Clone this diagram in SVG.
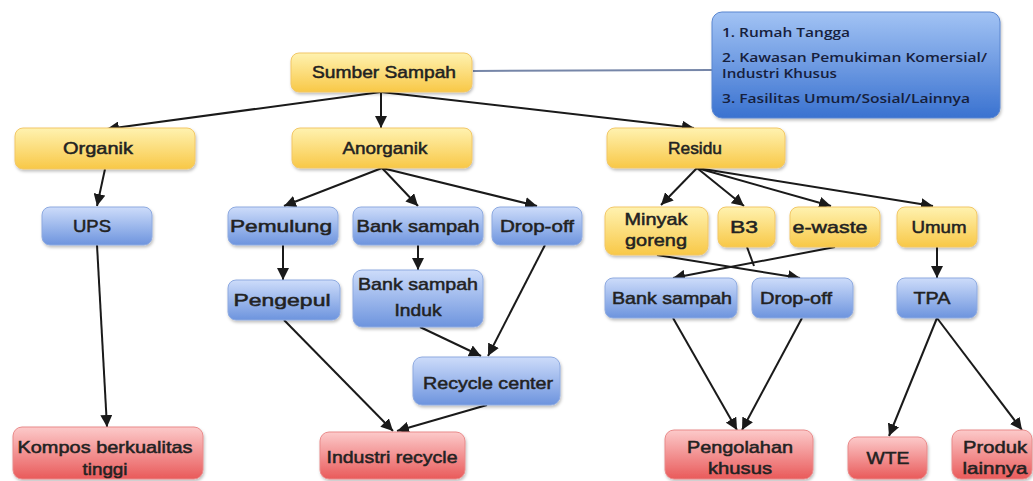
<svg xmlns="http://www.w3.org/2000/svg" width="1033" height="481" viewBox="0 0 1033 481">
<defs>
<linearGradient id="gy" x1="0" y1="0" x2="0" y2="1"><stop offset="0" stop-color="#fff2b0"/><stop offset="1" stop-color="#f8c847"/></linearGradient>
<linearGradient id="gb" x1="0" y1="0" x2="0" y2="1"><stop offset="0" stop-color="#cddcfa"/><stop offset="1" stop-color="#6d94de"/></linearGradient>
<linearGradient id="gr" x1="0" y1="0" x2="0" y2="1"><stop offset="0" stop-color="#fccaca"/><stop offset="1" stop-color="#e95a5a"/></linearGradient>
<linearGradient id="gk" x1="0" y1="0" x2="0" y2="1"><stop offset="0" stop-color="#a2c3f4"/><stop offset="1" stop-color="#3a72d0"/></linearGradient>
<filter id="sh" x="-10%" y="-10%" width="120%" height="130%"><feDropShadow dx="1" dy="2" stdDeviation="1.5" flood-color="#000" flood-opacity="0.25"/></filter>
<marker id="ar" viewBox="0 0 10 10" refX="10" refY="5" markerWidth="12" markerHeight="12" markerUnits="userSpaceOnUse" orient="auto"><path d="M0,0 L10,5 L0,10 z" fill="#1a1a1a"/></marker>
</defs>
<style>
.y{fill:url(#gy);stroke:#f2c766;stroke-width:1;filter:url(#sh)}
.b{fill:url(#gb);stroke:#8eaae0;stroke-width:1;filter:url(#sh)}
.r{fill:url(#gr);stroke:#e98a8a;stroke-width:1;filter:url(#sh)}
.t{font-family:"Liberation Sans",Arial,sans-serif;font-size:17px;fill:#222;text-anchor:middle;stroke:#222;stroke-width:0.5}
.k{font-family:"Open Sans","Liberation Sans",sans-serif;font-size:12px;font-weight:600;fill:#16203c}
.e{fill:none;stroke:#1a1a1a;stroke-width:2}
.ea{fill:none;stroke:#1a1a1a;stroke-width:2;marker-end:url(#ar)}
</style>
<g id="connectors">
<path class="e" d="M473,71 L712,70" style="stroke:#7686a8"/>
<path class="ea" d="M381,92 L107,129"/>
<path class="ea" d="M381,92 L381,128"/>
<path class="ea" d="M381,92 L694,128"/>
<path class="ea" d="M105,169 L97,206"/>
<path class="ea" d="M97,245 L107,427"/>
<path class="ea" d="M382,168 L284,206"/>
<path class="ea" d="M382,168 L418,206"/>
<path class="ea" d="M382,168 L537,206"/>
<path class="ea" d="M283,245 L283,280"/>
<path class="ea" d="M418,245 L418,270"/>
<path class="ea" d="M545,245 L488,356"/>
<path class="ea" d="M420,327 L481,356"/>
<path class="ea" d="M284,320 L393,431"/>
<path class="ea" d="M487,405 L397,431"/>
<path class="ea" d="M697,168 L661,205"/>
<path class="ea" d="M697,168 L744,206"/>
<path class="ea" d="M697,168 L831,206"/>
<path class="ea" d="M697,168 L933,206"/>
<path class="ea" d="M657,255 L800,278"/>
<path class="ea" d="M835,247 L673,278"/>
<path class="e" d="M747,247 L754,266"/>
<path class="ea" d="M937,247 L937,278"/>
<path class="ea" d="M673,318 L737,430"/>
<path class="ea" d="M802,318 L742,430"/>
<path class="ea" d="M937,318 L889,436"/>
<path class="ea" d="M937,318 L1022,430"/>
</g>
<g id="sumber-info">
<rect x="712" y="12" width="288" height="106" rx="10" fill="url(#gk)" stroke="#5a86d0" filter="url(#sh)"/>
<text class="k" x="722" y="37" textLength="128" lengthAdjust="spacingAndGlyphs">1. Rumah Tangga</text>
<text class="k" x="722" y="62" textLength="265" lengthAdjust="spacingAndGlyphs">2. Kawasan Pemukiman Komersial/</text>
<text class="k" x="722" y="78" textLength="115" lengthAdjust="spacingAndGlyphs">Industri Khusus</text>
<text class="k" x="722" y="103" textLength="248" lengthAdjust="spacingAndGlyphs">3. Fasilitas Umum/Sosial/Lainnya</text>
</g>
<g id="sumber-sampah"><rect class="y" x="291" y="53" width="181" height="39" rx="8"/><text class="t" x="384" y="78" textLength="144" lengthAdjust="spacingAndGlyphs">Sumber Sampah</text></g>
<g id="organik"><rect class="y" x="15" y="128" width="180" height="41" rx="8"/><text class="t" x="98" y="154" textLength="70" lengthAdjust="spacingAndGlyphs">Organik</text></g>
<g id="anorganik"><rect class="y" x="292" y="128" width="180" height="40" rx="8"/><text class="t" x="385" y="154" textLength="85" lengthAdjust="spacingAndGlyphs">Anorganik</text></g>
<g id="residu"><rect class="y" x="607" y="128" width="178" height="40" rx="8"/><text class="t" x="695" y="154" textLength="54" lengthAdjust="spacingAndGlyphs">Residu</text></g>
<g id="ups"><rect class="b" x="42" y="207" width="110" height="38" rx="8"/><text class="t" x="92" y="232" textLength="38" lengthAdjust="spacingAndGlyphs">UPS</text></g>
<g id="pemulung"><rect class="b" x="228" y="207" width="110" height="38" rx="8"/><text class="t" x="281" y="232" textLength="102" lengthAdjust="spacingAndGlyphs">Pemulung</text></g>
<g id="bank-sampah"><rect class="b" x="353" y="207" width="130" height="38" rx="8"/><text class="t" x="418" y="232" textLength="123" lengthAdjust="spacingAndGlyphs">Bank sampah</text></g>
<g id="drop-off"><rect class="b" x="492" y="207" width="90" height="38" rx="8"/><text class="t" x="537" y="232" textLength="74" lengthAdjust="spacingAndGlyphs">Drop-off</text></g>
<g id="pengepul"><rect class="b" x="228" y="280" width="112" height="40" rx="8"/><text class="t" x="282" y="306" textLength="97" lengthAdjust="spacingAndGlyphs">Pengepul</text></g>
<g id="bank-sampah-induk"><rect class="b" x="353" y="270" width="130" height="57" rx="9"/><text class="t" x="418" y="290" textLength="120" lengthAdjust="spacingAndGlyphs">Bank sampah</text><text class="t" x="418" y="316" textLength="47" lengthAdjust="spacingAndGlyphs">Induk</text></g>
<g id="recycle-center"><rect class="b" x="413" y="357" width="147" height="48" rx="9"/><text class="t" x="488" y="389" textLength="130" lengthAdjust="spacingAndGlyphs">Recycle center</text></g>
<g id="minyak-goreng"><rect class="y" x="605" y="207" width="103" height="48" rx="9"/><text class="t" x="656" y="225" textLength="63" lengthAdjust="spacingAndGlyphs">Minyak</text><text class="t" x="656" y="246" textLength="62" lengthAdjust="spacingAndGlyphs">goreng</text></g>
<g id="b3"><rect class="y" x="718" y="207" width="57" height="40" rx="8"/><text class="t" x="744" y="233" textLength="28" lengthAdjust="spacingAndGlyphs">B3</text></g>
<g id="e-waste"><rect class="y" x="790" y="207" width="90" height="40" rx="8"/><text class="t" x="830" y="233" textLength="75" lengthAdjust="spacingAndGlyphs">e-waste</text></g>
<g id="umum"><rect class="y" x="897" y="207" width="80" height="40" rx="8"/><text class="t" x="939" y="233" textLength="55" lengthAdjust="spacingAndGlyphs">Umum</text></g>
<g id="bank-sampah-residu"><rect class="b" x="605" y="278" width="132" height="40" rx="8"/><text class="t" x="672" y="304" textLength="120" lengthAdjust="spacingAndGlyphs">Bank sampah</text></g>
<g id="drop-off-residu"><rect class="b" x="752" y="278" width="101" height="40" rx="8"/><text class="t" x="796" y="304" textLength="72" lengthAdjust="spacingAndGlyphs">Drop-off</text></g>
<g id="tpa"><rect class="b" x="897" y="278" width="80" height="40" rx="8"/><text class="t" x="932" y="304" textLength="37" lengthAdjust="spacingAndGlyphs">TPA</text></g>
<g id="kompos"><rect class="r" x="13" y="427" width="190" height="52" rx="9"/><text class="t" x="105" y="453" textLength="175" lengthAdjust="spacingAndGlyphs">Kompos berkualitas</text><text class="t" x="105" y="475" textLength="45" lengthAdjust="spacingAndGlyphs">tinggi</text></g>
<g id="industri-recycle"><rect class="r" x="320" y="432" width="145" height="47" rx="9"/><text class="t" x="392" y="463" textLength="131" lengthAdjust="spacingAndGlyphs">Industri recycle</text></g>
<g id="pengolahan-khusus"><rect class="r" x="665" y="430" width="148" height="49" rx="9"/><text class="t" x="740" y="453" textLength="106" lengthAdjust="spacingAndGlyphs">Pengolahan</text><text class="t" x="740" y="474" textLength="64" lengthAdjust="spacingAndGlyphs">khusus</text></g>
<g id="wte"><rect class="r" x="848" y="437" width="79" height="42" rx="9"/><text class="t" x="888" y="464" textLength="43" lengthAdjust="spacingAndGlyphs">WTE</text></g>
<g id="produk-lainnya"><rect class="r" x="952" y="430" width="80" height="49" rx="9"/><text class="t" x="995" y="453" textLength="64" lengthAdjust="spacingAndGlyphs">Produk</text><text class="t" x="995" y="474" textLength="65" lengthAdjust="spacingAndGlyphs">lainnya</text></g>
</svg>
